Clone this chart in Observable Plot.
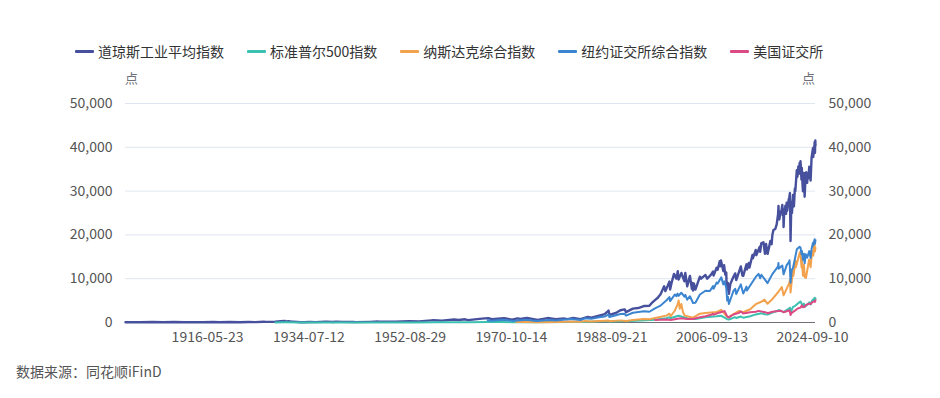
<!DOCTYPE html>
<html><head><meta charset="utf-8">
<script src="https://cdn.jsdelivr.net/npm/d3@7"></script>
<script src="https://cdn.jsdelivr.net/npm/@observablehq/plot@0.6"></script>
<style>
body{margin:0;background:#fff;font-family:"Microsoft YaHei","Noto Sans CJK SC",sans-serif;}
#wrap{position:relative;width:940px;height:398px;overflow:hidden;}
#legend{position:absolute;left:75px;top:41px;display:flex;gap:23px;font-size:14px;color:#333;white-space:nowrap;}
.item{display:flex;align-items:center;gap:4px;}
.sw{width:19px;height:3px;border-radius:1px;}
.unit{position:absolute;top:68px;font-size:13px;color:#6E7079;}
#chart{position:absolute;left:0;top:65px;}
#cap{position:absolute;left:16px;top:361px;font-size:14px;color:#555;}
</style></head>
<body><div id="wrap">
<div id="legend"></div>
<div class="unit" style="left:125px">点</div>
<div class="unit" style="left:802px">点</div>
<div id="chart"></div>
<div id="cap">数据来源：同花顺iFinD</div>
</div>
<script>
const seriesNames = ["道琼斯工业平均指数","标准普尔500指数","纳斯达克综合指数","纽约证交所综合指数","美国证交所"];
const seriesColors = ["#46509c","#3cc1b1","#f2a14c","#3a84d0","#dc4a86"];
const xTickLabels = ["1916-05-23","1934-07-12","1952-08-29","1970-10-14","1988-09-21","2006-09-13","2024-09-10"];
const yTicks = [0,10000,20000,30000,40000,50000];
const xStart = "1901-03-01", xEnd = "2024-09-10";

const dow = [["1901-03-01",70],["1903-11-01",43],["1906-01-15",103],["1907-11-15",53],["1909-11-15",100],["1911-09-15",73],["1914-12-15",54],["1916-11-15",110],["1917-12-15",66],["1919-11-01",119],["1921-08-15",64],["1923-03-15",105],["1924-05-15",89],["1925-12-15",156],["1926-03-30",136],["1927-12-15",200],["1928-12-15",300],["1929-09-03",381],["1929-11-13",199],["1930-04-17",294],["1930-12-15",158],["1931-02-24",194],["1932-07-08",41],["1932-09-07",79],["1933-02-27",50],["1934-02-05",110],["1935-03-14",96],["1936-12-15",180],["1937-03-10",194],["1938-03-31",99],["1938-11-10",158],["1939-12-15",150],["1941-12-15",111],["1942-04-28",93],["1944-12-15",152],["1946-05-29",212],["1946-10-09",163],["1949-06-13",161],["1951-12-15",270],["1953-09-14",255],["1955-12-15",488],["1956-04-06",521],["1957-10-22",420],["1959-12-31",679],["1960-10-25",566],["1961-12-13",734],["1962-06-26",536],["1964-12-15",874],["1966-02-09",995],["1966-10-07",744],["1968-12-03",985],["1970-05-26",631],["1971-04-28",950],["1971-11-23",798],["1973-01-11",1051],["1974-12-06",578],["1976-09-21",1014],["1978-02-28",742],["1979-10-05",897],["1980-04-21",759],["1981-04-27",1024],["1982-08-12",777],["1983-11-29",1287],["1984-07-24",1086],["1985-12-16",1546],["1986-12-15",1895],["1987-08-25",2722],["1987-10-19",1739],["1988-12-15",2168],["1989-10-09",2791],["1990-07-16",2999],["1990-10-11",2365],["1991-12-31",3168],["1992-12-15",3301],["1993-12-15",3754],["1994-12-15",3834],["1995-06-15",4556],["1995-12-15",5117],["1996-06-15",5654],["1996-12-15",6448],["1997-08-06",8259],["1997-10-27",7161],["1998-07-17",9337],["1998-08-31",7539],["1998-12-15",9181],["1999-05-13",11107],["1999-10-15",10019],["2000-01-14",11723],["2000-03-07",9796],["2000-09-06",11310],["2001-03-22",9389],["2001-05-21",11337],["2001-09-21",8236],["2002-03-19",10635],["2002-07-23",7702],["2002-08-22",9053],["2002-10-09",7286],["2002-11-27",8931],["2003-03-11",7524],["2003-12-31",10454],["2004-03-15",10000],["2004-12-28",10854],["2005-04-20",10012],["2005-12-15",10880],["2006-05-10",11642],["2006-06-13",10706],["2006-12-27",12510],["2007-03-05",12050],["2007-07-19",14000],["2007-08-16",12846],["2007-10-09",14164],["2008-03-10",11740],["2008-05-02",13058],["2008-07-15",10963],["2008-09-19",11388],["2008-10-10",8451],["2008-11-20",7552],["2009-01-02",9034],["2009-03-09",6547],["2009-06-12",8799],["2009-12-31",10428],["2010-04-26",11205],["2010-07-02",9686],["2010-12-31",11578],["2011-04-29",12810],["2011-08-10",10719],["2011-10-03",10655],["2012-05-01",13279],["2012-06-04",12101],["2012-10-05",13610],["2012-11-15",12542],["2013-05-28",15409],["2013-06-24",14660],["2013-12-31",16577],["2014-02-03",15372],["2014-09-19",17280],["2014-10-15",16141],["2014-12-26",18053],["2015-05-19",18312],["2015-08-25",15666],["2015-11-03",17918],["2016-02-11",15660],["2016-08-15",18636],["2016-11-04",17888],["2016-12-20",19974],["2017-03-01",21115],["2017-06-30",21350],["2017-09-29",22405],["2017-12-29",24719],["2018-01-26",26617],["2018-02-08",23860],["2018-03-23",23533],["2018-06-08",25317],["2018-07-31",25415],["2018-10-03",26828],["2018-10-29",24443],["2018-12-03",25826],["2018-12-24",21792],["2019-01-31",24999],["2019-04-23",26656],["2019-06-03",24815],["2019-07-15",27359],["2019-08-14",25479],["2019-11-27",28164],["2019-12-31",28538],["2020-02-12",29551],["2020-03-23",18591],["2020-04-29",24633],["2020-06-08",27572],["2020-06-26",25015],["2020-09-02",29100],["2020-10-30",26501],["2020-12-31",30606],["2021-01-29",29983],["2021-05-07",34777],["2021-06-18",33290],["2021-08-16",35625],["2021-10-04",34002],["2021-11-08",36432],["2021-12-01",34022],["2022-01-04",36799],["2022-03-08",32632],["2022-03-29",35294],["2022-05-19",31253],["2022-06-16",29927],["2022-08-16",34152],["2022-09-30",28725],["2022-12-13",34108],["2022-12-28",32875],["2023-01-13",34302],["2023-03-15",31875],["2023-04-28",34098],["2023-05-31",32908],["2023-07-31",35560],["2023-10-27",32418],["2023-12-29",37690],["2024-02-15",38773],["2024-03-28",39807],["2024-04-19",37775],["2024-05-17",40004],["2024-06-11",38747],["2024-07-17",41198],["2024-08-05",38703],["2024-08-30",41563],["2024-09-06",40345],["2024-09-10",40736]];

const sp500 = [["1928-01-03",17.7],["1929-09-16",31.9],["1932-06-01",4.4],["1937-03-06",18.7],["1942-04-28",7.5],["1946-05-29",19.3],["1949-06-13",13.6],["1952-12-31",26.6],["1956-08-02",49.7],["1957-10-22",38.9],["1961-12-12",72.6],["1962-06-26",52.3],["1966-02-09",94.1],["1968-11-29",108.4],["1970-05-26",69.3],["1973-01-11",120.2],["1974-10-03",62.3],["1980-11-28",140.5],["1982-08-12",102.4],["1987-08-25",336.8],["1987-12-04",223.9],["1990-07-16",368.9],["1990-10-11",295.5],["1995-12-15",615],["1997-12-15",970],["1998-07-17",1186],["1998-08-31",957],["1999-12-31",1469],["2000-03-24",1527],["2001-09-21",966],["2002-10-09",777],["2003-03-11",800],["2004-12-31",1212],["2006-12-29",1418],["2007-10-09",1565],["2008-11-20",752],["2009-03-09",677],["2010-04-23",1217],["2010-07-02",1022],["2011-04-29",1363],["2011-10-03",1099],["2012-12-31",1426],["2013-12-31",1848],["2014-12-29",2090],["2015-08-25",1867],["2016-02-11",1829],["2016-12-13",2271],["2017-12-29",2673],["2018-01-26",2872],["2018-12-24",2351],["2019-12-31",3230],["2020-02-19",3386],["2020-03-23",2237],["2020-09-02",3580],["2020-12-31",3756],["2021-06-30",4297],["2021-12-31",4766],["2022-01-03",4796],["2022-06-16",3667],["2022-08-16",4305],["2022-10-12",3577],["2022-12-30",3839],["2023-07-31",4588],["2023-10-27",4117],["2023-12-29",4769],["2024-03-28",5254],["2024-04-19",4967],["2024-07-16",5667],["2024-08-05",5186],["2024-09-10",5495]];

const nasdaq = [["1971-02-05",100],["1972-12-08",134],["1974-10-03",55],["1978-09-13",139],["1980-11-28",208],["1982-08-13",159],["1983-06-24",328],["1984-07-25",225],["1987-08-26",455],["1987-10-28",292],["1989-10-09",485],["1990-10-16",325],["1991-12-31",586],["1993-12-31",777],["1994-12-30",752],["1995-12-29",1052],["1996-12-31",1291],["1997-12-31",1570],["1998-07-20",2014],["1998-10-08",1419],["1999-06-30",2686],["1999-12-31",4069],["2000-03-10",5048],["2000-05-23",3164],["2000-09-01",4234],["2000-12-20",2333],["2001-04-04",1638],["2001-09-21",1423],["2002-10-09",1114],["2003-12-31",2003],["2004-12-31",2175],["2006-12-29",2415],["2007-10-31",2859],["2008-11-20",1316],["2009-03-09",1268],["2010-12-31",2653],["2011-10-03",2335],["2012-12-31",3020],["2013-12-31",4177],["2014-12-31",4736],["2015-07-20",5218],["2016-02-11",4267],["2016-12-30",5383],["2017-12-29",6903],["2018-08-29",8109],["2018-12-24",6193],["2019-12-31",8973],["2020-02-19",9817],["2020-03-23",6860],["2020-09-02",12056],["2020-09-23",10633],["2020-12-31",12888],["2021-02-12",14095],["2021-03-08",12609],["2021-11-19",16057],["2021-12-31",15645],["2022-03-14",12581],["2022-03-29",14619],["2022-06-16",10646],["2022-08-16",13103],["2022-10-13",10321],["2022-12-28",10213],["2023-07-19",14358],["2023-10-26",12595],["2023-12-29",15011],["2024-03-21",16401],["2024-04-19",15282],["2024-07-10",18647],["2024-08-05",16200],["2024-09-10",17026]];

const nyse = [["1966-01-03",520],["1966-10-07",400],["1968-11-29",600],["1970-05-26",370],["1972-12-11",640],["1974-10-03",320],["1976-12-31",560],["1978-03-06",480],["1980-11-28",790],["1982-08-12",580],["1983-06-24",970],["1984-07-24",830],["1985-12-16",1190],["1986-12-15",1360],["1987-08-25",1830],["1987-10-19",1240],["1989-10-09",1930],["1990-07-16",1990],["1990-10-11",1580],["1991-12-31",2230],["1993-12-31",2560],["1994-12-15",2450],["1995-12-15",3220],["1996-12-15",3850],["1997-10-07",4800],["1997-12-31",5020],["1998-07-17",5800],["1998-08-31",4900],["1999-07-16",6400],["1999-10-15",6000],["1999-12-31",6600],["2000-03-07",6100],["2000-09-01",6800],["2001-03-22",5900],["2001-05-21",6300],["2001-09-21",5200],["2002-03-19",6000],["2002-10-09",4450],["2003-03-11",4500],["2003-12-31",6400],["2004-12-31",7250],["2005-10-13",7200],["2006-05-10",8300],["2006-06-13",7700],["2006-12-27",9100],["2007-03-05",8900],["2007-10-31",10300],["2008-03-10",8700],["2008-05-19",9400],["2008-09-19",7900],["2008-11-20",5000],["2009-01-06",5900],["2009-03-09",4230],["2009-12-31",7200],["2010-04-26",7700],["2010-07-02",6500],["2011-04-29",8700],["2011-10-03",6600],["2012-05-01",8200],["2012-06-04",7300],["2012-12-31",8450],["2013-12-31",10400],["2014-07-03",11100],["2014-10-15",10100],["2014-12-31",10900],["2015-08-25",9800],["2016-02-11",9000],["2016-12-20",11050],["2017-12-29",12800],["2018-01-26",13600],["2018-02-08",12300],["2018-10-03",13000],["2018-12-24",11000],["2019-07-15",13100],["2019-12-31",13900],["2020-01-17",14200],["2020-03-23",9100],["2020-06-08",12000],["2020-09-02",12500],["2020-12-31",14500],["2021-05-07",16700],["2021-11-08",17300],["2022-01-04",17100],["2022-03-08",15600],["2022-03-29",16400],["2022-06-16",14300],["2022-08-16",15700],["2022-09-30",13500],["2022-12-13",15600],["2023-03-15",14800],["2023-07-31",16300],["2023-10-27",14700],["2023-12-29",16800],["2024-03-28",18200],["2024-04-19",17600],["2024-07-17",19000],["2024-08-05",18000],["2024-09-10",18800]];

const amex = [["1996-01-02",560],["1997-12-31",680],["1998-10-08",580],["1999-12-31",880],["2000-09-01",960],["2001-09-21",820],["2002-10-09",800],["2003-12-31",1180],["2004-12-31",1430],["2005-12-30",1760],["2006-05-10",2000],["2006-06-13",1800],["2006-12-29",2060],["2007-10-31",2400],["2008-06-02",2600],["2008-11-20",1400],["2009-03-09",1150],["2009-12-31",1820],["2010-12-31",2200],["2011-04-29",2500],["2011-10-03",2050],["2012-12-31",2350],["2013-12-31",2450],["2014-07-03",2650],["2015-12-31",2250],["2016-02-11",2100],["2016-12-30",2450],["2017-12-29",2600],["2018-06-15",2700],["2018-12-24",2350],["2019-12-31",2750],["2020-01-17",2800],["2020-03-23",1700],["2020-06-08",2200],["2020-12-31",2700],["2021-06-30",3200],["2021-12-31",3400],["2022-03-29",3900],["2022-06-16",3500],["2022-09-30",3600],["2022-12-30",4000],["2023-03-15",4100],["2023-07-31",4300],["2023-10-27",4200],["2023-12-29",4500],["2024-03-28",4700],["2024-07-17",4900],["2024-08-05",4700],["2024-09-10",5100]];

const allSeries = [dow, sp500, nasdaq, nyse, amex];
const rows = allSeries.flatMap((s, i) => s.map(([d, v]) => ({date: new Date(d), value: v, series: seriesNames[i]})));

// legend
const lg = document.getElementById("legend");
seriesNames.forEach((n, i) => {
  const it = document.createElement("div"); it.className = "item";
  it.innerHTML = `<span class="sw" style="background:${seriesColors[i]}"></span><span>${n}</span>`;
  lg.appendChild(it);
});

const fmt = d3.format(",");
const axisStyle = {tickSize: 0, tickPadding: 13, tickFormat: fmt, label: null, fontSize: 14, color: "#555"};
const chart = Plot.plot({
  width: 940, height: 290,
  marginLeft: 125, marginRight: 125, marginTop: 38, marginBottom: 33,
  style: {fontFamily: '"Microsoft YaHei","Noto Sans CJK SC",sans-serif', fontSize: "14px", color: "#555", background: "transparent"},
  x: {type: "utc", domain: [new Date(xStart), new Date(xEnd)]},
  y: {domain: [0, 50000]},
  color: {domain: seriesNames, range: seriesColors},
  marks: [
    Plot.gridY(yTicks, {stroke: "#E0E6F1", strokeOpacity: 1}),
    Plot.axisY(yTicks, {anchor: "left", ...axisStyle}),
    Plot.axisY(yTicks, {anchor: "right", ...axisStyle}),
    Plot.axisX(xTickLabels.map(d => new Date(d)), {tickSize: 0, tickPadding: 10, dx: -3, tickFormat: d3.utcFormat("%Y-%m-%d"), label: null, fontSize: 14, color: "#555"}),
    Plot.ruleY([0], {stroke: "#6E7079", strokeWidth: 1}),
    Plot.line(rows, {x: "date", y: "value", z: "series", stroke: "series", strokeWidth: d => d.series === seriesNames[0] ? 2.4 : 2, strokeLinejoin: "round"})
  ]
});
document.getElementById("chart").appendChild(chart);
</script>
</body></html>
